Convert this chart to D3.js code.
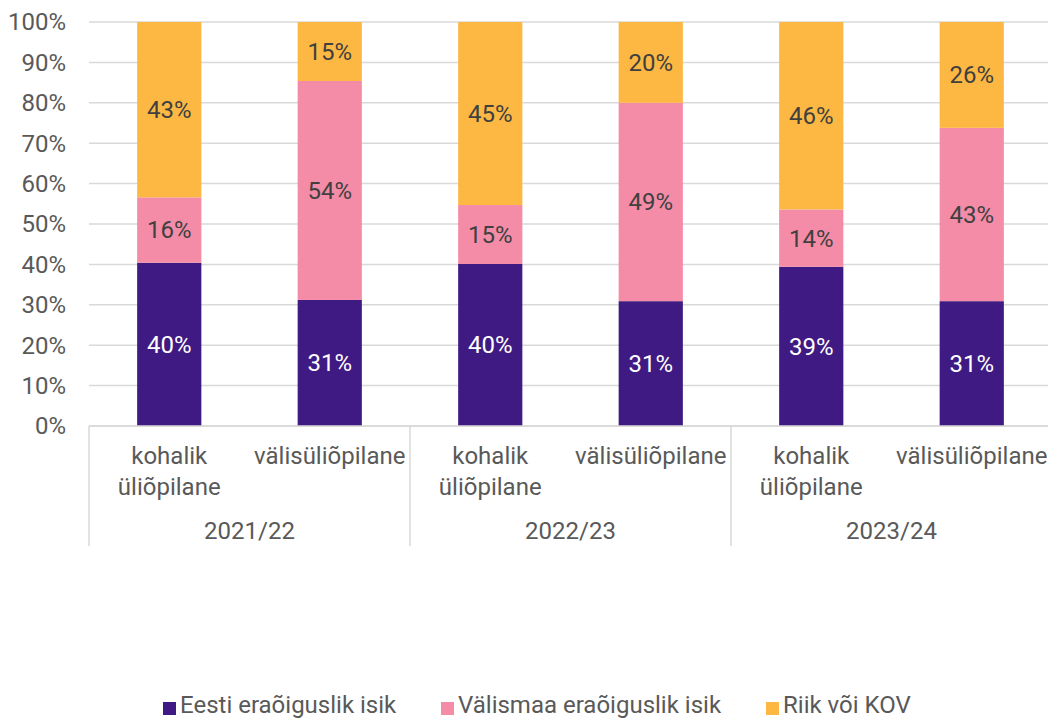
<!DOCTYPE html>
<html><head><meta charset="utf-8">
<script src="https://cdn.jsdelivr.net/npm/d3@7"></script>
<style>body{margin:0;background:#fff;font-family:Roboto,"Noto Sans",sans-serif;}</style>
</head><body><svg id="c" width="1048" height="720"></svg>
<script>
const years = ["2021/22","2022/23","2023/24"];
const groups = [["kohalik","üliõpilane"],["välisüliõpilane"]];
const seriesNames = ["Eesti eraõiguslik isik","Välismaa eraõiguslik isik","Riik või KOV"];
const eesti =   [40.4, 31.2, 40.1, 30.9, 39.4, 30.9];
const valismaa =[16.2, 54.2, 14.6, 49.1, 14.2, 42.9];
const riik =    [43.4, 14.6, 45.3, 20.0, 46.4, 26.2];
const yTicks = [0,10,20,30,40,50,60,70,80,90,100];
const colors = ["#3f1a82","#f48ca8","#fdb843"];

(function(){
const svg = d3.select("#c");
const pL=89, pR=1052, pT=22, pB=426;
const FS = 24;
const cats = [];
years.forEach((y,i)=>groups.forEach((g,j)=>cats.push({id:i*2+j, year:y, lines:g})));
const x = d3.scaleBand().domain(cats.map(c=>c.id)).range([pL,pR]).paddingInner(0.6).paddingOuter(0.3);
const y = d3.scaleLinear().domain([0,100]).range([pB,pT]);

svg.append("g").selectAll("line").data(yTicks).join("line")
  .attr("x1",pL).attr("x2",pR).attr("y1",d=>y(d)).attr("y2",d=>y(d))
  .attr("stroke","#d9d9d9").attr("stroke-width",1.5);
svg.append("g").selectAll("text").data(yTicks).join("text")
  .attr("x",66).attr("y",d=>y(d)).attr("dy","0.35em").attr("text-anchor","end")
  .attr("font-size",FS).attr("fill","#595959").text(d=>d+"%");

const series = [eesti,valismaa,riik];
const data = cats.map((c,i)=>{let acc=0; return series.map((s,k)=>{const o={cat:c.id,k,v:s[i],y0:acc,y1:Math.min(100,acc+s[i])}; acc+=s[i]; return o;});}).flat();
svg.append("g").selectAll("rect").data(data).join("rect")
  .attr("x",d=>x(d.cat)).attr("width",x.bandwidth())
  .attr("y",d=>y(d.y1)).attr("height",d=>y(d.y0)-y(d.y1))
  .attr("fill",d=>colors[d.k]);
svg.append("g").selectAll("text").data(data).join("text")
  .attr("x",d=>x(d.cat)+x.bandwidth()/2).attr("y",d=>y((d.y0+d.y1)/2)).attr("dy","0.35em")
  .attr("text-anchor","middle").attr("font-size",FS).attr("fill",d=>d.k===0?"#ffffff":"#404040")
  .text(d=>Math.round(d.v)+"%");

svg.append("line").attr("x1",pL).attr("x2",pR).attr("y1",pB).attr("y2",pB).attr("stroke","#d9d9d9").attr("stroke-width",1.5);
const groupW = (pR-pL)/years.length;
[0,1,2].forEach(i=>{
  svg.append("line").attr("x1",pL+i*groupW).attr("x2",pL+i*groupW).attr("y1",pB).attr("y2",546).attr("stroke","#d9d9d9").attr("stroke-width",1.5);
});
const cl = svg.append("g");
cats.forEach(c=>{
  const t = cl.append("text").attr("text-anchor","middle").attr("font-size",FS).attr("fill","#595959");
  c.lines.forEach((l,i)=>t.append("tspan").attr("x",x(c.id)+x.bandwidth()/2).attr("y",464+i*31).text(l));
});
years.forEach((yr,i)=>{
  svg.append("text").attr("x",pL+(i+0.5)*groupW).attr("y",539).attr("text-anchor","middle")
    .attr("font-size",FS).attr("fill","#595959").text(yr);
});

const legX=[163,441,766];
seriesNames.forEach((n,i)=>{
  svg.append("rect").attr("x",legX[i]).attr("y",702).attr("width",13).attr("height",13).attr("fill",colors[i]);
  svg.append("text").attr("x",legX[i]+17).attr("y",713).attr("font-size",FS).attr("fill","#595959").text(n);
});
})();
</script></body></html>
